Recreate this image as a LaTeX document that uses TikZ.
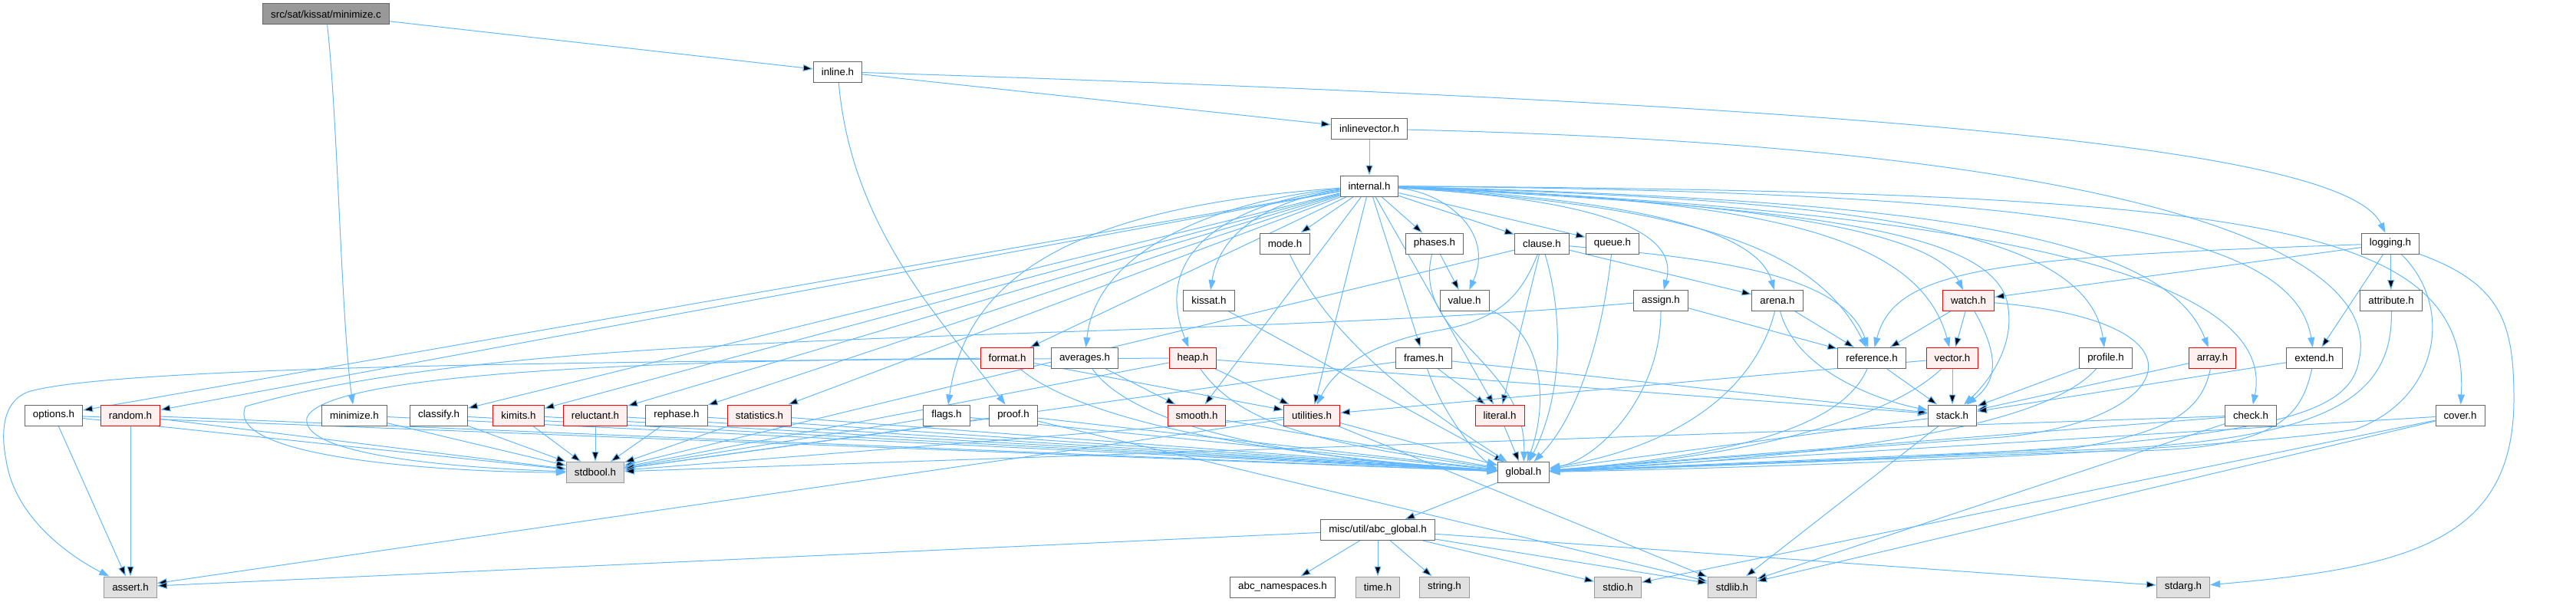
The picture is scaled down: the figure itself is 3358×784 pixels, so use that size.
\documentclass[tikz,border=0pt]{standalone}
\usepackage{fontspec}
\setmainfont{Liberation Sans}
\usetikzlibrary{arrows.meta,backgrounds}

\definecolor{edgeblue}{HTML}{63B8FF}
\definecolor{boxgray}{HTML}{666666}
\definecolor{sysgray}{HTML}{999999}
\definecolor{sysfill}{HTML}{E0E0E0}
\definecolor{redfill}{HTML}{FFF0F0}

\begin{document}
\begin{tikzpicture}[x=1pt, y=-1pt,
    hfile/.style={rectangle, draw=boxgray, fill=white, line width=1pt,
        minimum height=27pt, inner xsep=10.5pt, inner ysep=0pt,
        font=\fontsize{13.33}{16}\selectfont},
    redfile/.style={hfile, draw=red, fill=redfill},
    sysfile/.style={hfile, draw=sysgray, fill=sysfill},
    rootfile/.style={hfile, fill=sysgray},
    dep/.style={draw=edgeblue, line width=1pt, -{Triangle[length=13pt, width=9pt]}}]

    \useasboundingbox (0,0) rectangle (3358,784);

    \node[rootfile] (mc)        at (425,18.5)   {src/sat/kissat/minimize.c};
    \node[hfile]    (inl)       at (1092,93.5)  {inline.h};
    \node[hfile]    (inv)       at (1785,168)   {inlinevector.h};
    \node[hfile]    (internal)  at (1785,242.5) {internal.h};

    \node[hfile]    (mode)      at (1675,317.5) {mode.h};
    \node[hfile]    (phases)    at (1870,317.5) {phases.h};
    \node[hfile]    (clause)    at (2010,317.5) {clause.h};
    \node[hfile]    (queue)     at (2102,317.5) {queue.h};
    \node[hfile]    (logging)   at (3116,317.5) {logging.h};

    \node[hfile]    (kissat)    at (1576,392)   {kissat.h};
    \node[hfile]    (value)     at (1909,392)   {value.h};
    \node[hfile]    (assign)    at (2165,392)   {assign.h};
    \node[hfile]    (arena)     at (2317,392)   {arena.h};
    \node[redfile]  (watch)     at (2566,392)   {watch.h};
    \node[hfile]    (attribute) at (3117,392)   {attribute.h};

    \node[redfile]  (format)    at (1313,467)   {format.h};
    \node[hfile]    (averages)  at (1414,467)   {averages.h};
    \node[redfile]  (heap)      at (1555,467)   {heap.h};
    \node[hfile]    (frames)    at (1856,467)   {frames.h};
    \node[hfile]    (reference) at (2440,467)   {reference.h};
    \node[redfile]  (vector)    at (2545,467)   {vector.h};
    \node[hfile]    (profile)   at (2745,467)   {profile.h};
    \node[redfile]  (array)     at (2884,467)   {array.h};
    \node[hfile]    (extend)    at (3017,467)   {extend.h};

    \node[hfile]    (options)   at (70,541.5)   {options.h};
    \node[redfile]  (random)    at (170,541.5)  {random.h};
    \node[hfile]    (minh)      at (462,541.5)  {minimize.h};
    \node[hfile]    (classify)  at (572,541.5)  {classify.h};
    \node[redfile]  (kimits)    at (676,541.5)  {kimits.h};
    \node[redfile]  (reluctant) at (776,541.5)  {reluctant.h};
    \node[hfile]    (rephase)   at (882,541.5)  {rephase.h};
    \node[redfile]  (statistics) at (990,541.5) {statistics.h};
    \node[hfile]    (flags)     at (1234,541.5) {flags.h};
    \node[hfile]    (proof)     at (1321,541.5) {proof.h};
    \node[redfile]  (smooth)    at (1560,541.5) {smooth.h};
    \node[redfile]  (utilities) at (1710,541.5) {utilities.h};
    \node[redfile]  (literal)   at (1955,541.5) {literal.h};
    \node[hfile]    (stack)     at (2545,541.5) {stack.h};
    \node[hfile]    (check)     at (2934,541.5) {check.h};
    \node[hfile]    (cover)     at (3207,541.5) {cover.h};

    \node[sysfile]  (stdbool)   at (776,616)    {stdbool.h};
    \node[hfile]    (global)    at (1986,616)   {global.h};
    \node[hfile]    (abcg)      at (1796,691)   {misc/util/abc\_global.h};

    \node[sysfile]  (assert)    at (170,765.5)  {assert.h};
    \node[hfile]    (abcns)     at (1672,765.5) {abc\_namespaces.h};
    \node[sysfile]  (time)      at (1796,765.5) {time.h};
    \node[sysfile]  (string)    at (1883,765.5) {string.h};
    \node[sysfile]  (stdio)     at (2109,765.5) {stdio.h};
    \node[sysfile]  (stdlib)    at (2258,765.5) {stdlib.h};
    \node[sysfile]  (stdarg)    at (2846,765.5) {stdarg.h};

    \begin{scope}[on background layer]
    \path[dep]
        (mc) edge (inl)
        (inl) edge (inv)
        (inv) edge (internal)

        (internal) edge (mode) edge (phases) edge (clause) edge (queue)
        (internal) edge (frames) edge (literal) edge (utilities) edge (smooth)
        (internal) edge (format)
        (internal) edge (options) edge (random) edge (classify) edge (kimits)
        (internal) edge (reluctant) edge (rephase) edge (statistics)

        (phases) edge (value)
        (clause) edge (literal) edge (arena) edge (stdbool)
        (logging) edge (attribute) edge (extend) edge (watch)
        (kissat) edge (global)
        (assign) edge (reference)
        (arena) edge (reference)
        (watch) edge (reference) edge (vector)

        (format) edge (utilities)
        (averages) edge (smooth)
        (heap) edge (utilities) edge (stack) edge (stdbool)
        (frames) edge (literal) edge (stack) edge (stdbool)
        (reference) edge (stack)
        (vector) edge (stack) edge (utilities)
        (profile) edge (stack)
        (array) edge (stack)
        (extend) edge (stack)

        (options) edge (assert) edge (stdbool) edge (global)
        (random) edge (assert) edge (stdbool) edge (global)
        (minh) edge (stdbool) edge (global)
        (classify) edge (stdbool) edge (global)
        (kimits) edge (stdbool) edge (global)
        (reluctant) edge (stdbool) edge (global)
        (rephase) edge (stdbool) edge (global)
        (statistics) edge (stdbool) edge (global)
        (flags) edge (stdbool) edge (global)
        (proof) edge (stdbool) edge (global) edge (stdlib)
        (smooth) edge (global)
        (utilities) edge (assert) edge (stdbool) edge (global) edge (stdlib)
        (literal) edge (global)
        (stack) edge (global) edge (stdlib)
        (check) edge (stdbool) edge (global) edge (stdlib)
        (cover) edge (global) edge (stdio) edge (stdlib)

        (global) edge (abcg)
        (abcg) edge (assert) edge (abcns) edge (time) edge (string)
        (abcg) edge (stdio) edge (stdlib) edge (stdarg);

    \draw[dep] (mc) .. controls (440,150) and (445,420) .. (minh);
    \draw[dep] (inl) .. controls (2550,140) and (3060,200) .. (logging);
    \draw[dep] (inl) .. controls (1110,300) and (1230,420) .. (proof);
    \draw[dep] (inv) .. controls (2750,190) and (3110,320) .. (3075,470)
        .. controls (3060,560) and (2900,585) .. (global);

    \draw[dep] (internal) .. controls (1880,250) and (1950,300) .. (value);
    \draw[dep] (internal) .. controls (1660,260) and (1590,300) .. (kissat);
    \draw[dep] (internal) .. controls (1600,265) and (1500,330) .. (heap);
    \draw[dep] (internal) .. controls (1600,260) and (1430,320) .. (averages);
    \draw[dep] (internal) .. controls (1400,270) and (1260,360) .. (flags);
    \draw[dep] (internal) .. controls (2080,260) and (2190,300) .. (assign);
    \draw[dep] (internal) .. controls (2130,260) and (2290,300) .. (arena);
    \draw[dep] (internal) .. controls (2230,270) and (2370,330) .. (reference);
    \draw[dep] (internal) .. controls (2280,262) and (2520,300) .. (watch);
    \draw[dep] (internal) .. controls (2280,260) and (2500,300) .. (vector);
    \draw[dep] (internal) .. controls (2350,270) and (2590,300) .. (2616,392)
        .. controls (2630,450) and (2590,500) .. (stack);
    \draw[dep] (internal) .. controls (2380,260) and (2720,290) .. (profile);
    \draw[dep] (internal) .. controls (2480,260) and (2820,300) .. (array);
    \draw[dep] (internal) .. controls (2480,270) and (2975,340) .. (check);
    \draw[dep] (internal) .. controls (2680,250) and (2990,300) .. (extend);
    \draw[dep] (internal) .. controls (2950,250) and (3220,290) .. (cover);

    \draw[dep] (mode) .. controls (1740,460) and (1900,560) .. (global);
    \draw[dep] (phases) .. controls (1840,440) and (1990,470) .. (global);
    \draw[dep] (clause) .. controls (1985,380) and (1960,415) .. (1880,430)
        .. controls (1790,445) and (1740,480) .. (utilities);
    \draw[dep] (clause) .. controls (2040,420) and (2035,520) .. (global);
    \draw[dep] (clause) .. controls (2200,335) and (2400,350) .. (reference);
    \draw[dep] (queue) .. controls (2090,430) and (2060,540) .. (global);
    \draw[dep] (logging) .. controls (2600,335) and (2470,350) .. (reference);
    \draw[dep] (logging) .. controls (3200,400) and (3180,520) .. (3070,560)
        .. controls (2870,590) and (2300,610) .. (global);
    \draw[dep] (logging) .. controls (3260,370) and (3277,420) .. (3277,520)
        .. controls (3277,700) and (3150,740) .. (stdarg);

    \draw[dep] (value) .. controls (2010,430) and (2020,520) .. (global);
    \draw[dep] (assign) .. controls (2165,520) and (2080,600) .. (global);
    \draw[dep] (assign) .. controls (1500,450) and (700,420) .. (320,530)
        .. controls (290,600) and (600,616) .. (stdbool);
    \draw[dep] (arena) .. controls (2340,480) and (2440,520) .. (stack);
    \draw[dep] (arena) .. controls (2290,500) and (2200,580) .. (global);
    \draw[dep] (watch) .. controls (2610,470) and (2600,500) .. (stack);
    \draw[dep] (watch) .. controls (2900,420) and (2830,550) .. (2610,570) -- (global);
    \draw[dep] (attribute) .. controls (3120,520) and (3030,570) .. (2760,585) -- (global);

    \draw[dep] (format) .. controls (1400,540) and (1600,590) .. (global);
    \draw[dep] (format) .. controls (800,470) and (420,490) .. (400,545)
        .. controls (390,600) and (650,612) .. (stdbool);
    \draw[dep] (averages) .. controls (1480,560) and (1700,600) .. (global);
    \draw[dep] (heap) .. controls (1620,560) and (1740,580) .. (global);
    \draw[dep] (heap) .. controls (700,470) and (150,480) .. (40,510)
        .. controls (5,520) and (0,560) .. (8,600)
        .. controls (20,680) and (100,730) .. (assert);
    \draw[dep] (frames) .. controls (1880,540) and (1930,600) .. (global);
    \draw[dep] (reference) .. controls (2400,560) and (2250,595) .. (global);
    \draw[dep] (vector) .. controls (2470,540) and (2300,595) .. (global);
    \draw[dep] (profile) .. controls (2680,540) and (2500,590) .. (global);
    \draw[dep] (array) .. controls (2870,540) and (2820,565) .. (2700,585) -- (global);
    \draw[dep] (extend) .. controls (3000,540) and (2975,590) .. (2750,588) -- (global);
    \end{scope}

\end{tikzpicture}
\end{document}
